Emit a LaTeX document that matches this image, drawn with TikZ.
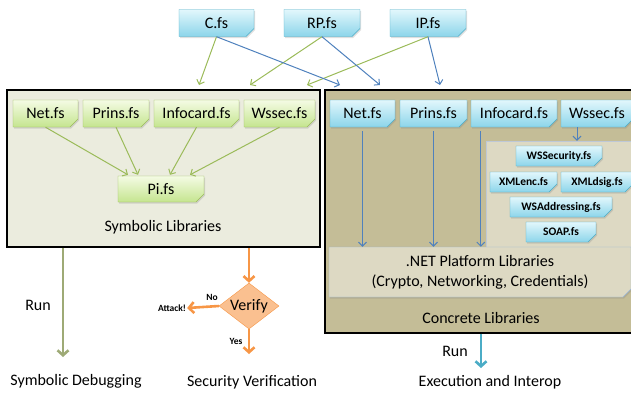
\documentclass[tikz,border=0pt]{standalone}
\usepackage{fontspec}
\setmainfont{Carlito}
\usetikzlibrary{arrows.meta,calc,shapes.misc,shapes.geometric,shadows}

\definecolor{symfill}{RGB}{235,236,222}
\definecolor{confill}{RGB}{196,189,151}
\definecolor{panfill}{RGB}{221,217,195}
\definecolor{gline}{RGB}{155,187,89}
\definecolor{gtop}{RGB}{244,251,228}
\definecolor{gbot}{RGB}{197,229,143}
\definecolor{bline}{RGB}{75,172,198}
\definecolor{btop}{RGB}{226,247,252}
\definecolor{bbot}{RGB}{140,213,234}
\definecolor{arrblue}{RGB}{79,129,189}
\definecolor{runolive}{RGB}{158,170,118}
\definecolor{orng}{RGB}{247,150,70}
\definecolor{orngfill}{RGB}{250,192,144}
\definecolor{netline}{RGB}{149,179,215}
\definecolor{panline}{RGB}{190,200,215}

\tikzset{
  fsfile/.style={chamfered rectangle, chamfered rectangle corners=south east,
    chamfered rectangle xsep=4pt, chamfered rectangle ysep=4pt,
    inner sep=0pt, minimum height=27pt, font=\fontsize{16}{18}\selectfont,
    drop shadow={shadow xshift=1pt, shadow yshift=-1.5pt, opacity=0.25},
    path picture={\fill[#1] ($(path picture bounding box.south east)+(-4pt,0pt)$)
      -- ($(path picture bounding box.south east)+(0pt,4pt)$)
      -- ($(path picture bounding box.south east)+(-4pt,4pt)$) -- cycle;}},
  symfile/.style={fsfile=gline!80, draw=gline, top color=gtop, bottom color=gbot},
  confile/.style={fsfile=bline!70, draw=bline, top color=btop, bottom color=bbot},
  wsfile/.style={confile, minimum height=20pt, font=\fontsize{11.5}{13}\selectfont\bfseries},
  libbox/.style={draw=black, line width=1.5pt, inner sep=0pt},
  lbl/.style={font=\fontsize{16}{18}\selectfont, inner sep=1pt},
  tiny/.style={font=\fontsize{9.5}{11}\selectfont\bfseries, inner sep=1pt},
  dep/.style={line width=1pt, -{Straight Barb[length=4pt,width=8pt]}},
  outflow/.style={line width=2.6pt, -{Straight Barb[length=5pt,width=11pt]}}
}

\begin{document}
\begin{tikzpicture}[x=1pt, y=-1pt]
    \clip (0,0) rectangle (631,397);

    % source files on top
    \node[confile, minimum width=75pt] (cfs) at (216.5,23) {C.fs};
    \node[confile, minimum width=76pt] (rpfs) at (322,23) {RP.fs};
    \node[confile, minimum width=76pt] (ipfs) at (428,23) {IP.fs};

    % the two library boxes
    \node[libbox, fill=symfill, minimum width=313pt, minimum height=157pt] (sym) at (163.5,168.5) {};
    \node[libbox, fill=confill, minimum width=315pt, minimum height=243pt] (con) at (482.5,211.5) {};
    \node[lbl] (symlbl) at (163,227) {Symbolic Libraries};
    \node[lbl] (conlbl) at (481,318) {Concrete Libraries};

    % free ends of the top arrows
    \coordinate (cg) at (199,85);
    \coordinate (rpg) at (250,85);
    \coordinate (ipg) at (307,85);
    \coordinate (cb) at (340,85);
    \coordinate (rpb) at (380,85);
    \coordinate (ipb) at (440,85);
    \draw[dep, gline] (cfs.south) -- (cg);
    \draw[dep, gline] (rpfs.south) -- (rpg);
    \draw[dep, gline] (ipfs.south) -- (ipg);
    \draw[dep, arrblue] (cfs.south) -- (cb);
    \draw[dep, arrblue] (rpfs.south) -- (rpb);
    \draw[dep, arrblue] (ipfs.south) -- (ipb);

    % symbolic side
    \node[symfile, minimum width=65pt] (netS) at (45.5,113.5) {Net.fs};
    \node[symfile, minimum width=66pt] (prinsS) at (116,113.5) {Prins.fs};
    \node[symfile, minimum width=85pt] (infoS) at (196.5,113.5) {Infocard.fs};
    \node[symfile, minimum width=71pt] (wssecS) at (279.5,113.5) {Wssec.fs};
    \node[symfile, minimum width=86pt, minimum height=26pt] (pi) at (161,189) {Pi.fs};
    \draw[dep, gline] (netS.south) -- ($(pi.north)+(-33,-1)$);
    \draw[dep, gline] (prinsS.south) -- ($(pi.north)+(-23,-1)$);
    \draw[dep, gline] (infoS.south) -- ($(pi.north)+(9,-1)$);
    \draw[dep, gline] (wssecS.south) -- ($(pi.north)+(29,-1)$);

    % concrete side
    \node[draw=panline, fill=panfill, minimum width=159pt, minimum height=106pt, inner sep=0pt] (panel) at (565.5,194) {};
    \node[confile, minimum width=65pt] (netC) at (362.5,113.5) {Net.fs};
    \node[confile, minimum width=67pt] (prinsC) at (433.5,113.5) {Prins.fs};
    \node[confile, minimum width=86pt] (infoC) at (514,113.5) {Infocard.fs};
    \node[confile, minimum width=72pt] (wssecC) at (597,113.5) {Wssec.fs};

    \node[wsfile, minimum width=86pt] (wssecurity) at (559,156) {WSSecurity.fs};
    \node[wsfile, minimum width=67pt] (xmlenc) at (523.5,182) {XMLenc.fs};
    \node[wsfile, minimum width=72pt] (xmldsig) at (597,182) {XMLdsig.fs};
    \node[wsfile, minimum width=102pt] (wsaddr) at (561,207) {WSAddressing.fs};
    \node[wsfile, minimum width=70pt] (soap) at (561,232) {SOAP.fs};

    \node[fsfile=netline!60, draw=netline, fill=panfill, minimum width=302pt, minimum height=50pt,
      align=center, font=\fontsize{16}{20}\selectfont] (dotnet) at (480,272)
      {.NET Platform Libraries\\(Crypto, Networking, Credentials)};

    \coordinate (infoout) at ($(infoC.south west)+(10,0)$);
    \coordinate (wssecout) at ($(wssecC.south)+(-20,0)$);
    \draw[dep, arrblue, shorten <=4pt] (netC.south) -- (netC.south |- dotnet.north);
    \draw[dep, arrblue, shorten <=4pt] (prinsC.south) -- (prinsC.south |- dotnet.north);
    \draw[dep, arrblue, shorten <=4pt] (infoout) -- (infoout |- dotnet.north);
    \draw[dep, arrblue] (wssecout) -- (wssecout |- panel.north);

    % outputs
    \node[lbl] (symdebug) at (76,381) {Symbolic Debugging};
    \node[lbl] (secver) at (252,382) {Security Verification};
    \node[lbl] (exec) at (490,382) {Execution and Interop};
    \node[lbl] (runS) at (38,305) {Run};
    \node[lbl] (runC) at (455,351) {Run};

    \coordinate (symrun) at (63,357);
    \coordinate (conrun) at (481,368);
    \draw[outflow, runolive] (sym.south -| symrun) -- (symrun);
    \draw[outflow, bline] (con.south -| conrun) -- (conrun);

    % verification
    \node[diamond, aspect=1.3, draw=orng, fill=orngfill, inner sep=0pt, minimum width=60pt,
      minimum height=46pt, font=\fontsize{16}{18}\selectfont] (verify) at (249,306) {Verify};
    \node[tiny] (attack) at (172,308) {Attack!};
    \node[tiny] (no) at (212,297) {No};
    \node[tiny] (yes) at (236,341) {Yes};
    \coordinate (yesend) at (249,354);
    \draw[outflow, orng] (sym.south -| verify) -- (verify.north);
    \draw[outflow, orng] (verify.west) -- (attack.east);
    \draw[outflow, orng] (verify.south) -- (yesend);
\end{tikzpicture}
\end{document}
